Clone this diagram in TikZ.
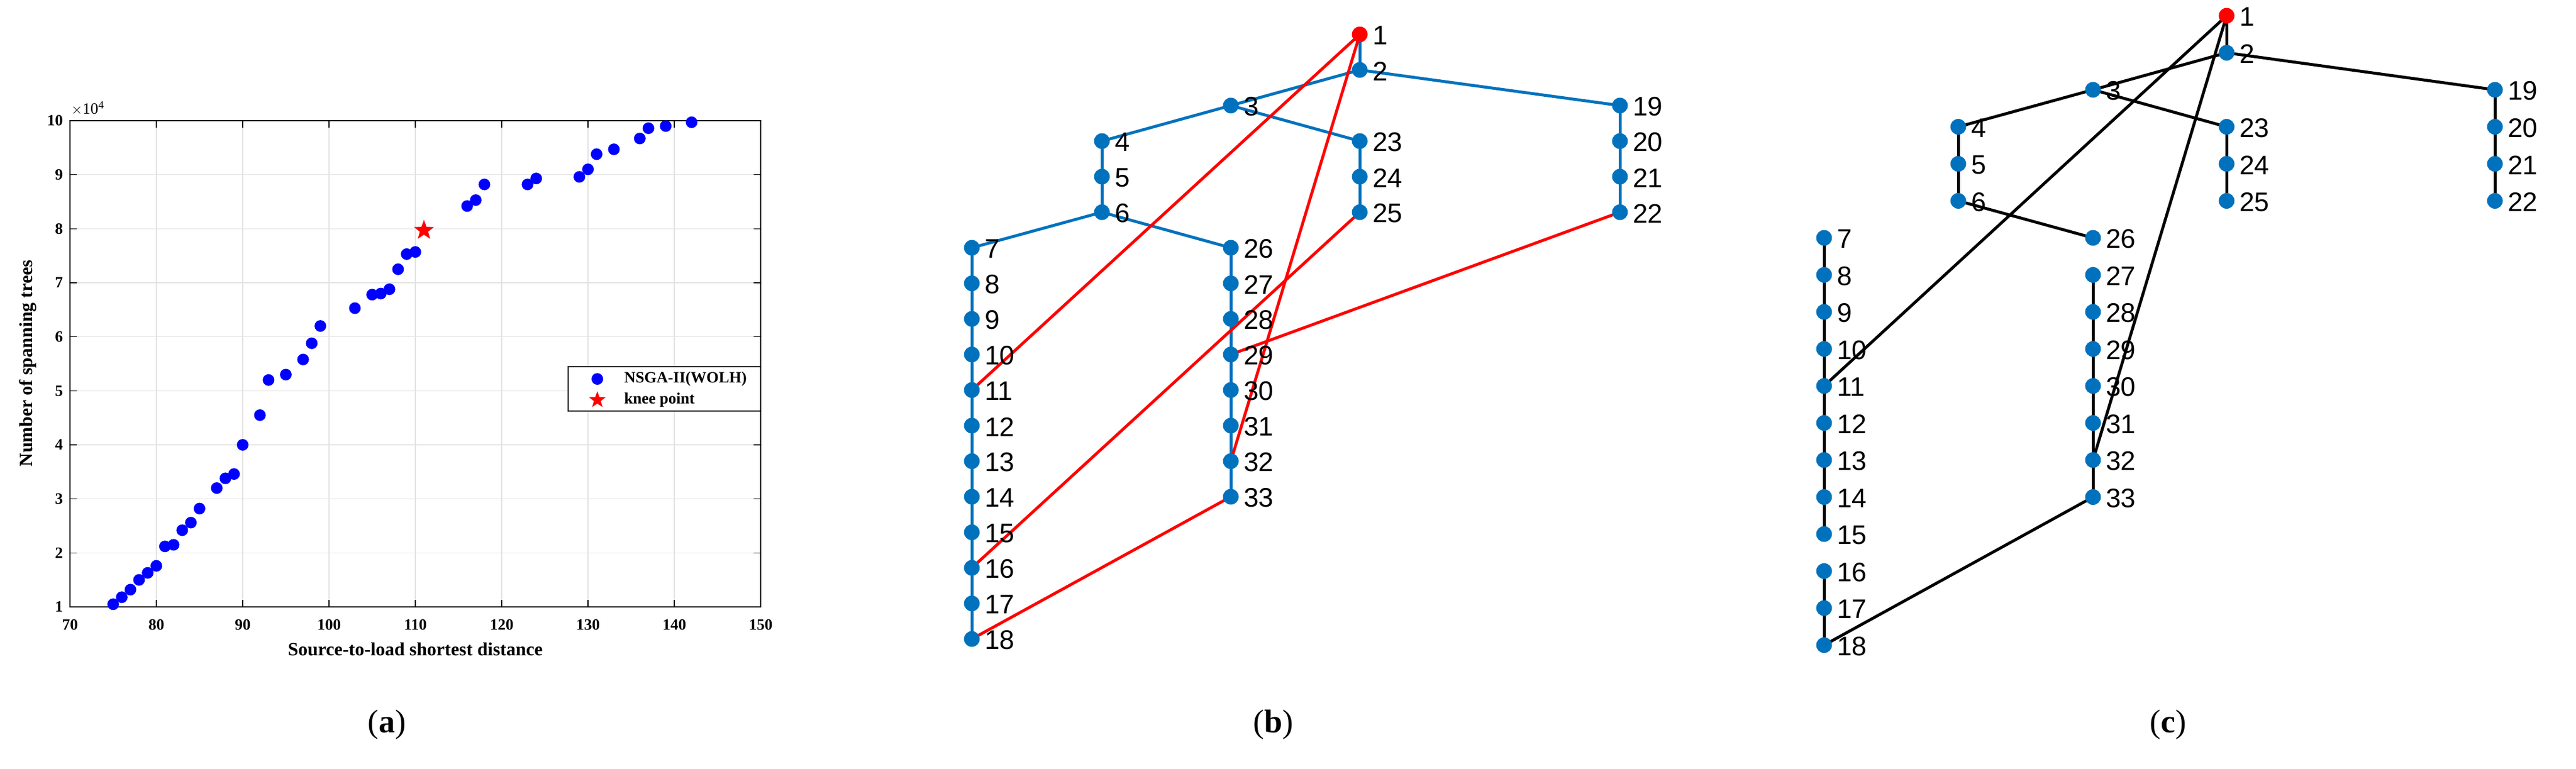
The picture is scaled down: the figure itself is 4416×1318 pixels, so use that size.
\documentclass[tikz,border=0pt]{standalone}
\usepackage{fontspec}
\setmainfont{Liberation Serif}
\newfontfamily\arialf{Liberation Sans}
\usetikzlibrary{shapes.geometric}
\pgfdeclarelayer{bg}
\pgfsetlayers{bg,main}
\definecolor{mblue}{HTML}{0072BD}
\tikzset{
  gdot/.style={circle,fill=mblue,inner sep=0pt,minimum size=27pt},
  rdot/.style={circle,fill=red,inner sep=0pt,minimum size=27pt},
  glab/.style={anchor=west,font=\arialf\fontsize{46}{46}\selectfont,inner sep=0pt},
  tedge/.style={line width=5pt,mblue},
  redge/.style={line width=5pt,red},
  kedge/.style={line width=5pt,black},
  pdot/.style={circle,fill=blue,inner sep=0pt,minimum size=20pt},
  tick/.style={font=\bfseries\fontsize{27}{27}\selectfont,inner sep=0pt},
  sublab/.style={font=\fontsize{56}{56}\selectfont,inner sep=0pt},
}
\begin{document}
\begin{tikzpicture}[x=1pt,y=-1pt]
\useasboundingbox (0,0) rectangle (4416,1318);
% ---------------- panel (a) ----------------
\foreach \v in {80,90,...,140} \draw[gray!22,line width=1.2pt] ({120+(\v-70)*14.8},207) -- ({120+(\v-70)*14.8},1041);
\foreach \v in {2,...,9} \draw[gray!22,line width=1.2pt] (120,{1041-(\v-1)*92.67}) -- (1304,{1041-(\v-1)*92.67});
\draw[line width=1.5pt] (120,207) rectangle (1304,1041);
\foreach \v in {70,80,...,150} {
  \draw[line width=1.5pt] ({120+(\v-70)*14.8},1041) -- ++(0,-12);
  \draw[line width=1.5pt] ({120+(\v-70)*14.8},207) -- ++(0,12);
  \node[tick,anchor=north] (xt\v) at ({120+(\v-70)*14.8},1062) {\v};
}
\foreach \v in {1,...,10} {
  \draw[line width=1.5pt] (120,{1041-(\v-1)*92.67}) -- ++(12,0);
  \draw[line width=1.5pt] (1304,{1041-(\v-1)*92.67}) -- ++(-12,0);
  \node[tick,anchor=east] (yt\v) at (108,{1041-(\v-1)*92.67}) {\v};
}
\node[font=\fontsize{27}{27}\selectfont,inner sep=0pt,anchor=south west] (mult) at (122,198) {$\times$10\textsuperscript{4}};
\node[font=\bfseries\fontsize{32}{32}\selectfont,rotate=90] (ylab) at (48,623) {Number of spanning trees};
\node[font=\bfseries\fontsize{32}{32}\selectfont] (xlab) at (712,1114) {Source-to-load shortest distance};
\foreach \px/\py [count=\i] in {75/1.05,76/1.18,77/1.32,78/1.5,79/1.63,80/1.76,81/2.12,82/2.15,83/2.42,84/2.56,85/2.82,87/3.2,88/3.38,89/3.46,90/4.0,92/4.55,93/5.2,95/5.3,97/5.58,98/5.88,99/6.2,103/6.53,105/6.78,106/6.8,107/6.88,108/7.25,109/7.53,110/7.57,116/8.42,117/8.53,118/8.82,123/8.82,124/8.93,129/8.96,130/9.1,131/9.38,133/9.47,136/9.67,137/9.86,139/9.9,142/9.97}
  \node[pdot] (p\i) at ({120+(\px-70)*14.8},{1041-(\py-1)*92.67}) {};
\node[star,star points=5,star point ratio=2.4,fill=red,inner sep=0pt,minimum size=36pt] (knee) at ({120+(111-70)*14.8},{1041-(7.97-1)*92.67}) {};
\draw[line width=1.2pt,fill=white] (974,629) rectangle (1304,705);
\node[pdot] (lg1) at (1024,650) {};
\node[star,star points=5,star point ratio=2.4,fill=red,inner sep=0pt,minimum size=30pt] (lg2) at (1024,686) {};
\node[tick,anchor=west] (lt1) at (1070,650) {NSGA-II(WOLH)};
\node[tick,anchor=west] (lt2) at (1070,686) {knee point};
\node[sublab] (la) at (663,1243) {(\textbf{a})};
\node[sublab] (lb) at (2183,1243) {(\textbf{b})};
\node[sublab] (lc) at (3717,1243) {(\textbf{c})};
% ---------------- panels (b) and (c) ----------------
\def\nodelist{1/4/0,2/4/1,3/3/2,4/2/3,5/2/4,6/2/5,7/1/6,8/1/7,9/1/8,10/1/9,11/1/10,12/1/11,13/1/12,14/1/13,15/1/14,16/1/15,17/1/16,18/1/17,19/5/2,20/5/3,21/5/4,22/5/5,23/4/3,24/4/4,25/4/5,26/3/6,27/3/7,28/3/8,29/3/9,30/3/10,31/3/11,32/3/12,33/3/13}
\foreach \n/\c/\r in \nodelist {
  \pgfmathsetmacro\xx{{1666,1889,2110,2331,2777}[\c-1]}
  \pgfmathsetmacro\yy{59+\r*61}
  \ifnum\n=1 \node[rdot] (b\n) at (\xx,\yy) {}; \else \node[gdot] (b\n) at (\xx,\yy) {}; \fi
  \node[glab] (bl\n) at ([xshift=22pt,yshift=-2pt]b\n.center) {\n};
  \pgfmathsetmacro\xc{{3127,3357,3588,3817,4277}[\c-1]}
  \pgfmathsetmacro\yc{27+\r*63.5}
  \ifnum\n=1 \node[rdot] (c\n) at (\xc,\yc) {}; \else \node[gdot] (c\n) at (\xc,\yc) {}; \fi
  \node[glab] (cl\n) at ([xshift=22pt,yshift=-2pt]c\n.center) {\n};
}
\begin{pgfonlayer}{bg}
\foreach \a/\b in {1/2,2/3,2/19,3/4,3/23,4/5,5/6,6/7,6/26,7/8,8/9,9/10,10/11,11/12,12/13,13/14,14/15,15/16,16/17,17/18,19/20,20/21,21/22,23/24,24/25,26/27,27/28,28/29,29/30,30/31,31/32,32/33}
  \draw[tedge] (b\a.center) -- (b\b.center);
\foreach \a/\b in {1/11,1/32,25/16,22/29,18/33}
  \draw[redge] (b\a.center) -- (b\b.center);
\foreach \a/\b in {1/2,2/3,2/19,3/4,3/23,4/5,5/6,6/26,7/8,8/9,9/10,10/11,11/12,12/13,13/14,14/15,16/17,17/18,19/20,20/21,21/22,23/24,24/25,27/28,28/29,29/30,30/31,31/32,32/33,1/11,1/32,18/33}
  \draw[kedge] (c\a.center) -- (c\b.center);
\end{pgfonlayer}
\end{tikzpicture}
\end{document}
